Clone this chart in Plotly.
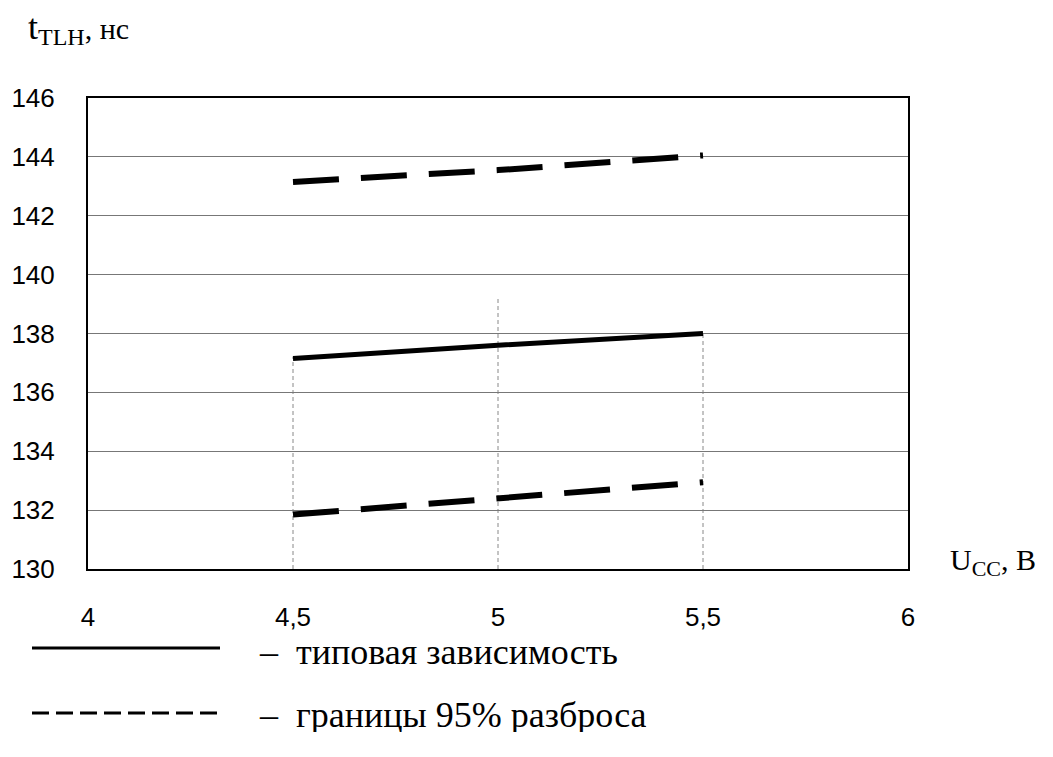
import plotly.graph_objects as go

# Data
u_cc = [4.5, 5.0, 5.5]
t_typical = [137.15, 137.6, 138.0]
t_upper = [143.15, 143.55, 144.05]
t_lower = [131.85, 132.4, 132.95]

x_ticks = [4, 4.5, 5, 5.5, 6]
x_ticklabels = ["4", "4,5", "5", "5,5", "6"]
y_ticks = [130, 132, 134, 136, 138, 140, 142, 144, 146]

# partial vertical guide lines (as in the scan)
vline_x = [4.5, 5.0, 5.5]
vline_top = [137.2, 139.2, 138.0]

legend_labels = ["–  типовая зависимость", "–  границы 95% разброса"]

fig = go.Figure()

for xv, yt in zip(vline_x, vline_top):
    fig.add_shape(type="line", xref="x", yref="y", x0=xv, x1=xv, y0=130, y1=yt,
                  line=dict(color="#888", width=1, dash="4px,3px"), layer="below")

fig.add_trace(go.Scatter(x=u_cc, y=t_typical, mode="lines",
                         line=dict(color="black", width=5), showlegend=False))
fig.add_trace(go.Scatter(x=u_cc, y=t_upper, mode="lines",
                         line=dict(color="black", width=6, dash="46px,22px"), showlegend=False))
fig.add_trace(go.Scatter(x=u_cc, y=t_lower, mode="lines",
                         line=dict(color="black", width=6, dash="46px,22px"), showlegend=False))

tickfont = dict(family="Liberation Sans, Arial", size=26, color="black")
fig.update_xaxes(range=[4, 6], tickvals=x_ticks, ticktext=x_ticklabels,
                 showgrid=False, zeroline=False, showline=True, linecolor="black",
                 linewidth=2, mirror=True, ticks="", ticklabelstandoff=24,
                 tickfont=tickfont)
fig.update_yaxes(range=[130, 146], tickvals=y_ticks,
                 showgrid=True, gridcolor="#777", gridwidth=1,
                 zeroline=False, showline=True, linecolor="black",
                 linewidth=2, mirror=True, ticks="", ticklabelstandoff=26,
                 tickfont=tickfont)

serif = "Liberation Serif, Times New Roman"
PW, PH, L, T = 820, 471, 88, 98


def px(xp):
    return (xp - L) / PW


def py(yp):
    return (T + PH - yp) / PH


annotations = [
    dict(text="<span style='font-size:36px'>t</span><sub><span style='font-size:24px'>TLH</span></sub>, нс",
         xref="paper", yref="paper", x=px(26), y=py(28),
         xanchor="left", yanchor="middle", showarrow=False,
         font=dict(family=serif, size=30, color="black")),
    dict(text="U<sub><span style='font-size:22px'>CC</span></sub>, В",
         xref="paper", yref="paper", x=px(948), y=py(562),
         xanchor="left", yanchor="middle", showarrow=False,
         font=dict(family=serif, size=30, color="black")),
]
# legend built manually below the plot
leg_y_px = [652, 715]
for lbl, ypx in zip(legend_labels, leg_y_px):
    annotations.append(dict(text=lbl, xref="paper", yref="paper",
                            x=px(258), y=py(ypx), xanchor="left", yanchor="middle",
                            showarrow=False, height=34, borderpad=0,
                            font=dict(family=serif, size=36, color="black")))
fig.add_shape(type="line", xref="paper", yref="paper",
              x0=px(32), x1=px(220), y0=py(648), y1=py(648),
              line=dict(color="black", width=3))
fig.add_shape(type="line", xref="paper", yref="paper",
              x0=px(32), x1=px(220), y0=py(713), y1=py(713),
              line=dict(color="black", width=3, dash="17px,7px"))

fig.update_layout(width=1053, height=757, margin=dict(l=L, r=1053 - L - PW, t=T, b=757 - T - PH),
                  plot_bgcolor="white", paper_bgcolor="white",
                  annotations=annotations, showlegend=False)

fig.write_html("out.html")
